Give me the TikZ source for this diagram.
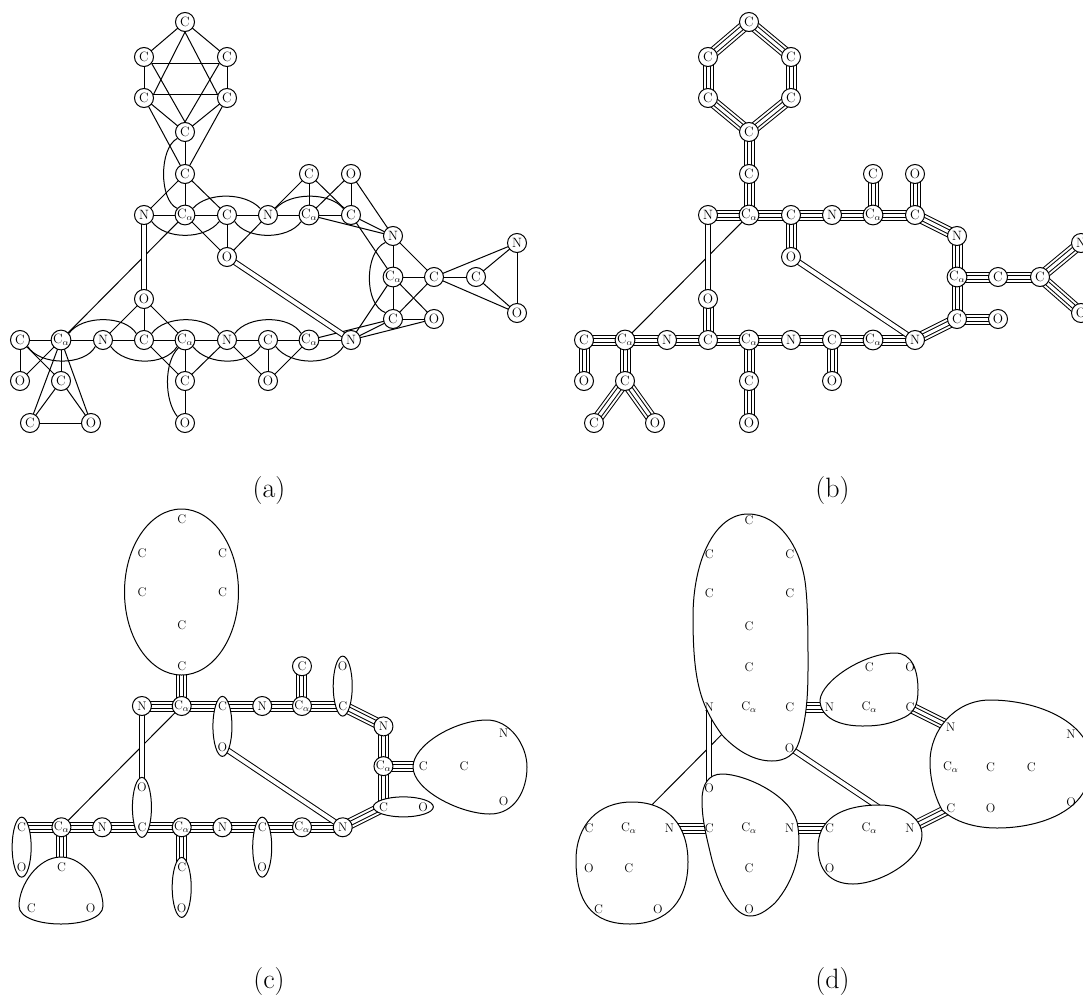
\documentclass[tikz,border=0pt]{standalone}
\usetikzlibrary{calc}
\pgfdeclarelayer{edges}
\pgfdeclarelayer{blobs}
\pgfsetlayers{edges,blobs,main}
\newcommand\Ca{C$_\alpha$}
\def\atoms{c1/185/22/C,c2/144/57/C,c3/227/57/C,c4/144/98/C,c5/227/98/C,c6/185/132/C,c7/185/174/C,%
N1/144/215/N,A1/185/215/\Ca,C8/227/215/C,N2/268/215/N,A2/309/215/\Ca,C9/351/215/C,C10/309/174/C,O1/351/174/O,O2/227/257/O,%
N3/393/236/N,A3/393/277/\Ca,C11/434/277/C,C12/476/277/C,N4/517/243/N,O3/517/313/O,C13/393/319/C,O4/434/319/O,%
N5/351/340/N,A4/309/340/\Ca,C14/268/340/C,N7/227/340/N,A6/185/340/\Ca,C15/144/340/C,N6/103/340/N,A5/61/340/\Ca,C16/20/340/C,%
O6/20/381/O,C17/61/381/C,C18/30/423/C,O7/91/423/O,O5/144/299/O,C19/185/381/C,O8/185/423/O,O9/268/381/O}
\def\primal{c1/c2,c1/c3,c2/c4,c3/c5,c4/c6,c5/c6,c4/c7,c5/c7,c6/c7,c7/N1,c7/A1,c7/C8,N1/A1,A1/C8,C8/N2,N2/A2,A2/C9,A1/O2,C8/O2,N2/O2,A1/A5,%
C10/N2,C10/A2,C10/C9,O1/A2,O1/C9,O1/N3,C9/N3,A2/N3,C9/A3,N3/A3,N3/C11,A3/C11,A3/C13,A3/O4,C11/C13,C11/C12,C11/N4,C11/O3,C12/N4,C12/O3,N4/O3,%
C13/O4,A4/C13,N5/C13,N5/O4,A3/N5,A4/N5,C14/A4,N7/C14,A6/N7,C15/A6,N6/C15,A5/N6,C16/A5,C16/O6,C16/C17,A5/O6,A5/C17,A5/C18,A5/O7,C17/C18,C17/O7,C18/O7,%
O5/N6,O5/C15,O5/A6,C15/C19,A6/C19,N7/C19,C19/O8,N7/O9,C14/O9,A4/O9}
\def\chains{c1/c2,c1/c3,c2/c4,c3/c5,c4/c6,c5/c6,c6/c7,c7/A1,N1/A1,A1/C8,C8/N2,N2/A2,A2/C9,C8/O2,A2/C10,C9/O1,C9/N3,N3/A3,A3/C13,A3/C11,C11/C12,C12/N4,C12/O3,C13/O4,C13/N5,%
N5/A4,A4/C14,C14/N7,N7/A6,A6/C15,C15/N6,N6/A5,A5/C16,C16/O6,C15/O5,A5/C17,C17/C18,C17/O7,A6/C19,C19/O8,C14/O9}
\newcommand\putatoms[5]{\foreach \nm/\px/\py/\lb in \atoms {\node[#5] (#1\nm) at ({#2+#4*(\px-185)},{#3+#4*(\py-215)}) {\lb};}}
\newcommand\quadbond[2]{%
 \draw[black,line width=11pt] (#1.center) -- (#2.center);
 \draw[white,line width=9pt] (#1.center) -- (#2.center);
 \draw[black,line width=5pt] (#1.center) -- (#2.center);
 \draw[white,line width=3pt] (#1.center) -- (#2.center);}
\newcommand\structure[1]{%
 \foreach \p/\q in \chains {\quadbond{#1\p}{#1\q}}
 \draw[bond] (#1A1.center) -- (#1A5.center);
 \draw[twin] (#1N1.center) -- (#1O5.center);
 \draw[twin] (#1O2.center) -- (#1N5.center);}
\tikzset{
 bond/.style={draw=black,line width=1pt},
 twin/.style={draw=black,line width=1pt,double=white,double distance=3.9pt},
 atom/.style={inner sep=0pt,font=\fontsize{12.5}{14}\selectfont},
 ring/.style={inner sep=0pt,font=\fontsize{13.5}{15}\selectfont,circle,draw=black,fill=white,line width=1pt,minimum size=19pt},
 blob/.style={draw=black,fill=white,line width=1pt},
 captext/.style={inner sep=0pt,font=\fontsize{28}{30}\selectfont}
}
\begin{document}
\begin{tikzpicture}[x=1pt,y=-1pt]
\useasboundingbox (0,0) rectangle (1083,998);
% ---------- panel a
\putatoms{a}{185}{215}{1}{ring}
\begin{pgfonlayer}{edges}
\foreach \p/\q in \primal {\draw[bond] (a\p.center) -- (a\q.center);}
\draw[bond] (ac2.-40) -- (ac3.-140);
\draw[bond] (ac4.20) -- (ac5.160);
\draw[bond] (ac1.south) -- (ac4.20);
\draw[bond] (ac1.south) -- (ac5.160);
\draw[bond] (ac2.-40) -- (ac6.north);
\draw[bond] (ac3.-140) -- (ac6.north);
\draw[twin] (aN1.center) -- (aO5.center);
\draw[twin] (aO2.center) -- (aN5.center);
\draw[bond] (ac6.-140) .. controls (159,148) and (159,200) .. (aA1.140);
\draw[bond] (aA1.40) .. controls (207,192) and (245,192) .. (aN2.140);
\draw[bond] (aN1.-40) .. controls (165,240) and (205,240) .. (aC8.-140);
\draw[bond] (aC8.-40) .. controls (247,240) and (288,240) .. (aA2.-140);
\draw[bond] (aN2.40) .. controls (290,192) and (330,192) .. (aC9.140);
\draw[bond] (aN3.-140) .. controls (364,252) and (364,305) .. (aC13.140);
\draw[bond] (aA5.40) .. controls (82,315) and (125,315) .. (aC15.140);
\draw[bond] (aC16.-40) .. controls (40,366) and (85,366) .. (aN6.-140);
\draw[bond] (aN6.-40) .. controls (125,366) and (165,366) .. (aA6.-140);
\draw[bond] (aC15.40) .. controls (165,315) and (207,315) .. (aN7.140);
\draw[bond] (aA6.-40) .. controls (208,366) and (248,366) .. (aC14.-140);
\draw[bond] (aN7.40) .. controls (248,315) and (290,315) .. (aA4.140);
\draw[bond] (aC14.-40) .. controls (290,366) and (332,366) .. (aN5.-140);
\draw[bond] (aA6.-130) .. controls (164,362) and (164,400) .. (aO8.140);
\end{pgfonlayer}
% ---------- panel b
\putatoms{b}{749}{215}{1}{ring}
\begin{pgfonlayer}{edges}
\structure{b}
\end{pgfonlayer}
% ---------- panel c
\putatoms{c}{181.7}{706}{.97}{atom}
\begin{pgfonlayer}{edges}
\structure{c}
\end{pgfonlayer}
\begin{pgfonlayer}{blobs}
\foreach \nm in {N1,A1,N2,A2,C10,N3,A3,A5,N6,A6,N7,A4,N5}{\node[ring] (r\nm) at (c\nm) {};}
\draw[blob] (181.5,592) ellipse [x radius=57,y radius=83];
\foreach \p/\q in {C8/O2,C9/O1,C15/O5,C16/O6,C19/O8,C14/O9}{\draw[blob] ($(c\p)!.5!(c\q)$) ellipse [x radius=9.5,y radius=30];}
\draw[blob] ($(cC13)!.5!(cO4)$) ellipse [x radius=30,y radius=10];
\draw[blob] (61,857) .. controls (38,857) and (19,885) .. (19,906) .. controls (19,918) and (40,924) .. (61,924) .. controls (82,924) and (103,918) .. (103,906) .. controls (103,885) and (84,857) .. (61,857) -- cycle;
\draw[blob] (413,767) .. controls (413,745) and (455,720) .. (487,720) .. controls (510,720) and (527,745) .. (527,767) .. controls (527,790) and (515,814) .. (490,814) .. controls (460,814) and (413,790) .. (413,767) -- cycle;
\end{pgfonlayer}
% ---------- panel d
\putatoms{d}{749}{707}{.97}{atom}
\begin{pgfonlayer}{edges}
\foreach \p/\q in {C8/N2,C9/N3,C13/N5,N6/C15,N7/C14}{\quadbond{d\p}{d\q}}
\draw[bond] (dA1.center) -- (dA5.center);
\draw[twin] (dN1.center) -- (dO5.center);
\draw[twin] (dO2.center) -- (dN5.center);
\end{pgfonlayer}
\begin{pgfonlayer}{blobs}
\draw[blob] (748,514) .. controls (715,514) and (693,560) .. (693,617) .. controls (693,680) and (700,705) .. (722,735) .. controls (738,752) and (755,761) .. (772,761) .. controls (785,761) and (795,755) .. (799,742) .. controls (806,720) and (808,700) .. (808,667) .. controls (808,640) and (808,610) .. (806,590) .. controls (803,550) and (780,514) .. (748,514) -- cycle;
\draw[blob] (820,700) .. controls (822,680) and (865,653) .. (895,653) .. controls (912,653) and (918,670) .. (918,690) .. controls (918,703) and (915,712) .. (905,717) .. controls (890,724) and (880,726) .. (862,726) .. controls (840,726) and (820,718) .. (820,700) -- cycle;
\draw[blob] (930,762) .. controls (930,730) and (955,700) .. (990,700) .. controls (1025,700) and (1065,712) .. (1083,737) .. controls (1092,752) and (1092,780) .. (1083,793) .. controls (1070,815) and (1035,828) .. (997,828) .. controls (975,828) and (955,822) .. (942,810) .. controls (935,797) and (930,780) .. (930,762) -- cycle;
\draw[blob] (632,802) .. controls (598,802) and (576,825) .. (576,860) .. controls (576,900) and (590,924) .. (630,924) .. controls (668,924) and (688,900) .. (688,862) .. controls (688,825) and (668,802) .. (632,802) -- cycle;
\draw[blob] (702,800) .. controls (702,785) and (708,774) .. (722,774) .. controls (745,774) and (790,795) .. (797,822) .. controls (803,850) and (795,880) .. (775,903) .. controls (765,912) and (758,916) .. (750,916) .. controls (735,916) and (720,890) .. (712,860) .. controls (706,835) and (702,820) .. (702,800) -- cycle;
\draw[blob] (818,847) .. controls (818,820) and (840,805) .. (880,805) .. controls (905,805) and (922,820) .. (922,835) .. controls (922,860) and (880,884) .. (853,884) .. controls (830,884) and (818,870) .. (818,847) -- cycle;
\end{pgfonlayer}
% ---------- captions
\node[captext] (capa) at (269,490.5) {(a)};
\node[captext] (capb) at (832.5,490.5) {(b)};
\node[captext] (capc) at (269,981) {(c)};
\node[captext] (capd) at (832.5,981) {(d)};
\end{tikzpicture}
\end{document}
